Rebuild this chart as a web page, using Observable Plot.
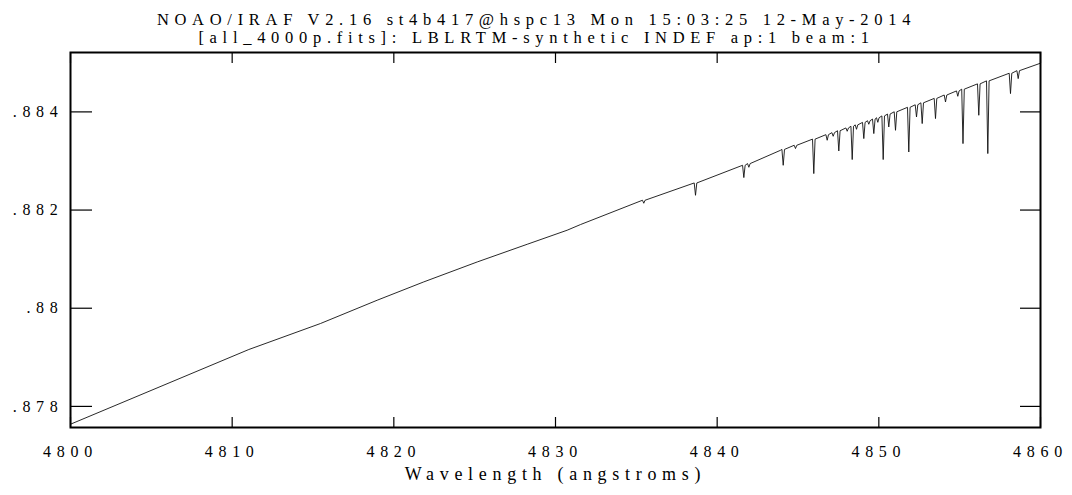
<!DOCTYPE html>
<html><head><meta charset="utf-8">
<script src="https://cdn.jsdelivr.net/npm/d3@7"></script>
<script src="https://cdn.jsdelivr.net/npm/@observablehq/plot@0.6"></script>
<style>
body{margin:0;background:#fff;}
#chart svg text{letter-spacing:5.7px;}
</style></head><body><div id="chart"></div>
<script>
// Continuum knots (wavelength in Å, flux)
const contWave = [4800.00, 4811.03, 4815.46, 4818.97, 4821.85, 4825.16, 4828.25, 4830.72, 4831.55, 4843.92, 4860.00];
const contFlux = [0.877637, 0.879159, 0.879688, 0.880163, 0.880536, 0.880943, 0.881303, 0.881589, 0.881705, 0.883218, 0.884992];

// Absorption lines: centre wavelength, continuum level at the line, flux at the line bottom
const dipWave = [4835.46, 4838.66, 4841.65, 4841.96, 4844.085, 4844.845, 4845.977, 4846.806, 4847.177, 4847.524,
                 4848.043, 4848.353, 4848.619, 4849.070, 4849.379, 4849.689, 4849.936, 4850.270, 4850.616, 4851.031,
                 4851.853, 4852.330, 4852.682, 4853.505, 4854.124, 4854.884, 4855.206, 4856.183, 4856.740, 4858.144, 4858.620];
const dipCont = [0.882200, 0.882552, 0.882912, 0.882947, 0.883236, 0.883320, 0.883445, 0.883536, 0.883577, 0.883616,
                 0.883673, 0.883707, 0.883736, 0.883786, 0.883820, 0.883854, 0.883881, 0.883918, 0.883956, 0.884002,
                 0.884093, 0.884145, 0.884185, 0.884275, 0.884344, 0.884427, 0.884463, 0.884571, 0.884632, 0.884787, 0.884840];
const dipFlux = [0.882139, 0.882301, 0.882662, 0.882872, 0.882912, 0.883253, 0.882743, 0.883422, 0.883503, 0.883204,
                 0.883605, 0.883029, 0.883646, 0.883456, 0.883748, 0.883558, 0.883788, 0.883029, 0.883693, 0.883625,
                 0.883183, 0.883896, 0.883762, 0.883864, 0.884202, 0.884318, 0.883354, 0.883931, 0.883151, 0.884373, 0.884678];

const xTicks = [4800, 4810, 4820, 4830, 4840, 4850, 4860];
const yTicks = [0.878, 0.880, 0.882, 0.884];
const yTickLabels = [".878", ".88", ".882", ".884"];
const titleLines = ["NOAO/IRAF V2.16 st4b417@hspc13 Mon 15:03:25 12-May-2014",
                    "[all_4000p.fits]: LBLRTM-synthetic INDEF ap:1 beam:1"];
const xLabel = "Wavelength (angstroms)";

// Build the spectrum table
const halfWidth = 0.08;
const spectrum = [];
contWave.forEach((w, i) => spectrum.push({wave: w, flux: contFlux[i]}));
dipWave.forEach((w, i) => {
  spectrum.push({wave: w - halfWidth, flux: dipCont[i]});
  spectrum.push({wave: w, flux: dipFlux[i]});
  spectrum.push({wave: w + halfWidth, flux: dipCont[i]});
});
spectrum.sort((a, b) => a.wave - b.wave);

const W = 1072, H = 495, mL = 70, mR = 32, mT = 52, mB = 68;
const frameH = H - mT - mB, frameW = W - mL - mR;

const chart = Plot.plot({
  width: W, height: H,
  marginLeft: mL, marginRight: mR, marginTop: mT, marginBottom: mB,
  x: {domain: [4800, 4860], axis: null},
  y: {domain: [0.87757, 0.88521], axis: null},
  style: {fontFamily: "'Liberation Serif', serif", fontSize: "16px", color: "#000", background: "#fff", overflow: "visible"},
  marks: [
    Plot.line(spectrum, {x: "wave", y: "flux", stroke: "#111", strokeWidth: 0.9}),
    Plot.tickX(xTicks, {x: d => d, insetTop: frameH - 10, stroke: "#000", strokeWidth: 1.2}),
    Plot.tickX(xTicks, {x: d => d, insetBottom: frameH - 11, stroke: "#000", strokeWidth: 1.2}),
    Plot.tickY(yTicks, {y: d => d, insetRight: frameW - 22, stroke: "#000", strokeWidth: 1.2}),
    Plot.tickY(yTicks, {y: d => d, insetLeft: frameW - 20, stroke: "#000", strokeWidth: 1.2}),
    Plot.frame({stroke: "#000", strokeWidth: 2}),
    Plot.text(xTicks, {x: d => d, text: d => String(d), frameAnchor: "bottom", dy: 29, fontSize: 16}),
    Plot.text(yTicks, {y: d => d, text: (d, i) => yTickLabels[i], frameAnchor: "left", dx: -7, textAnchor: "end", fontSize: 16}),
    Plot.text([titleLines[0]], {text: d => d, frameAnchor: "top-left", dx: 466, dy: -39, textAnchor: "middle", fontSize: 16.5}),
    Plot.text([titleLines[1]], {text: d => d, frameAnchor: "top-left", dx: 466, dy: -21, textAnchor: "middle", fontSize: 16.5}),
    Plot.text([xLabel], {text: d => d, frameAnchor: "bottom", dy: 52, fontSize: 18})
  ]
});
document.getElementById("chart").appendChild(chart);
</script></body></html>
